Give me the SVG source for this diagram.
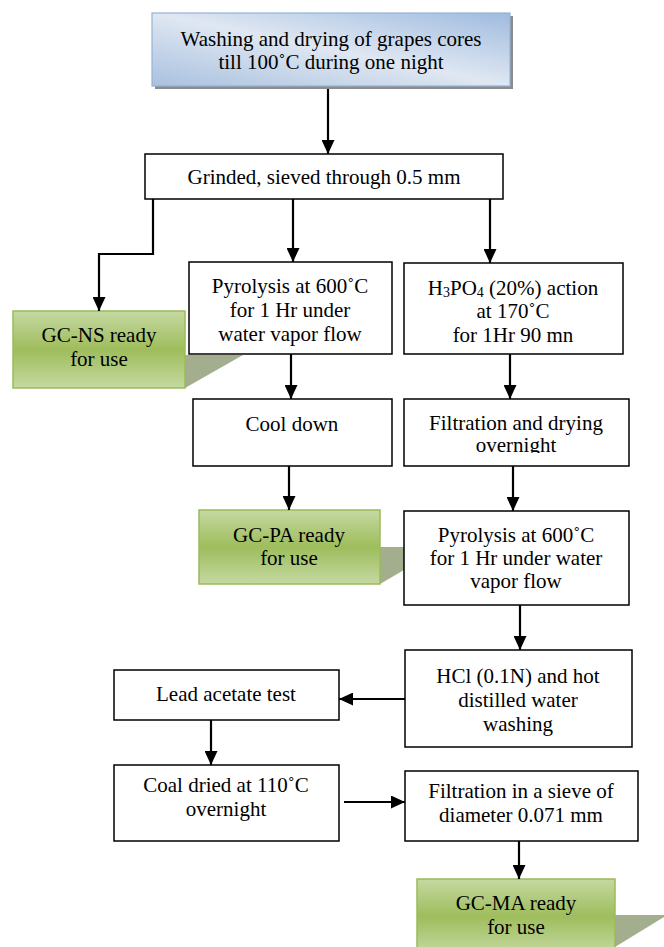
<svg xmlns="http://www.w3.org/2000/svg" width="664" height="947" viewBox="0 0 664 947">
<style>
text{font-family:'Liberation Serif',Tinos,'DejaVu Serif',serif;font-size:21px;fill:#000;text-anchor:middle}
.box{fill:#fff;stroke:#000;stroke-width:1.5}
.green{fill:url(#gg);stroke:#9bbb59;stroke-width:1.5}
.shadow{fill:#a3ae8e}
.con{fill:none;stroke:#000;stroke-width:2.2}
.sub{font-size:14px}
</style>
<defs>
<linearGradient id="bg" x1="0" y1="1" x2="1" y2="0">
<stop offset="0" stop-color="#a9c1df"/>
<stop offset="0.5" stop-color="#dfe7f2"/>
<stop offset="1" stop-color="#9fbbdf"/>
</linearGradient>
<linearGradient id="gg" x1="0" y1="0" x2="0" y2="1">
<stop offset="0" stop-color="#c5d9a2"/>
<stop offset="0.5" stop-color="#9ebd5c"/>
<stop offset="1" stop-color="#c5d9a2"/>
</linearGradient>
<marker id="ah" markerUnits="userSpaceOnUse" markerWidth="14" markerHeight="13" viewBox="0 0 14 13" refX="14" refY="6.5" orient="auto">
<path d="M0,0 L14,6.5 L0,13 z" fill="#000"/>
</marker>
<clipPath id="clipFD"><rect x="404" y="399" width="226" height="54"/></clipPath>
</defs>

<g id="shadows">
<polygon class="shadow" points="185,355 243,355 185,388"/>
<polygon class="shadow" points="380,547 404,547 404,570 380,584"/>
<polygon class="shadow" points="615,915 664,915 664,917 615,947"/>
</g>

<g id="n-washing">
<rect x="155" y="16" width="358" height="73" fill="#8c8c8c"/>
<rect x="152" y="13" width="358" height="73" fill="url(#bg)" stroke="#95b3d7" stroke-width="1.2"/>
<text x="331" y="46">Washing and drying of grapes cores</text>
<text x="331" y="69">till 100˚C during one night</text>
</g>

<g id="n-grinded">
<rect class="box" x="145" y="154" width="358" height="45"/>
<text x="324" y="184">Grinded, sieved through 0.5 mm</text>
</g>

<g id="n-gcns">
<rect class="green" x="13" y="311" width="172" height="77"/>
<text x="99" y="342">GC-NS ready</text>
<text x="99" y="366">for use</text>
</g>

<g id="n-pyro1">
<rect class="box" x="189" y="262" width="203" height="92"/>
<text x="290" y="293">Pyrolysis at 600˚C</text>
<text x="290" y="317">for 1 Hr under</text>
<text x="290" y="341">water vapor flow</text>
</g>

<g id="n-h3po4">
<rect class="box" x="404" y="263" width="219" height="91"/>
<text x="513" y="295">H<tspan class="sub" dy="2">3</tspan><tspan dy="-2">PO</tspan><tspan class="sub" dy="2">4</tspan><tspan dy="-2"> (20%) action</tspan></text>
<text x="513" y="318">at 170˚C</text>
<text x="513" y="342">for 1Hr 90 mn</text>
</g>

<g id="n-cool">
<rect class="box" x="193" y="399" width="199" height="67"/>
<text x="292" y="431">Cool down</text>
</g>

<g id="n-filtdry">
<rect class="box" x="404" y="399" width="225" height="67"/>
<text x="516" y="430">Filtration and drying</text>
<text x="516" y="452" clip-path="url(#clipFD)">overnight</text>
</g>

<g id="n-gcpa">
<rect class="green" x="199" y="510" width="181" height="74"/>
<text x="289" y="542">GC-PA ready</text>
<text x="289" y="565">for use</text>
</g>

<g id="n-pyro2">
<rect class="box" x="404" y="511" width="225" height="94"/>
<text x="516" y="542">Pyrolysis at 600˚C</text>
<text x="516" y="565">for 1 Hr under water</text>
<text x="516" y="588">vapor flow</text>
</g>

<g id="n-hcl">
<rect class="box" x="405" y="650" width="227" height="97"/>
<text x="518" y="683">HCl (0.1N) and hot</text>
<text x="518" y="707">distilled water</text>
<text x="518" y="731">washing</text>
</g>

<g id="n-lead">
<rect class="box" x="114" y="670" width="225" height="50"/>
<text x="226" y="701">Lead acetate test</text>
</g>

<g id="n-coal">
<rect class="box" x="114" y="765" width="225" height="76"/>
<text x="226" y="792">Coal dried at 110˚C</text>
<text x="226" y="816">overnight</text>
</g>

<g id="n-filtsieve">
<rect class="box" x="405" y="771" width="233" height="70"/>
<text x="521" y="798">Filtration in a sieve of</text>
<text x="521" y="822">diameter 0.071 mm</text>
</g>

<g id="n-gcma">
<rect class="green" x="417" y="879" width="198" height="75"/>
<text x="516" y="910">GC-MA ready</text>
<text x="516" y="934">for use</text>
</g>

<g id="connectors">
<line class="con" x1="328" y1="89" x2="328" y2="154" marker-end="url(#ah)"/>
<polyline class="con" points="153,199 153,254 99,254 99,311" marker-end="url(#ah)"/>
<line class="con" x1="293" y1="199" x2="293" y2="262" marker-end="url(#ah)"/>
<line class="con" x1="490" y1="199" x2="490" y2="263" marker-end="url(#ah)"/>
<line class="con" x1="291" y1="354" x2="291" y2="399" marker-end="url(#ah)"/>
<line class="con" x1="510" y1="354" x2="510" y2="399" marker-end="url(#ah)"/>
<line class="con" x1="289" y1="466" x2="289" y2="510" marker-end="url(#ah)"/>
<line class="con" x1="513" y1="466" x2="513" y2="511" marker-end="url(#ah)"/>
<line class="con" x1="520" y1="605" x2="520" y2="650" marker-end="url(#ah)"/>
<line class="con" x1="405" y1="699" x2="339" y2="699" marker-end="url(#ah)"/>
<line class="con" x1="211" y1="720" x2="211" y2="765" marker-end="url(#ah)"/>
<line class="con" x1="344" y1="802" x2="405" y2="802" marker-end="url(#ah)"/>
<line class="con" x1="519" y1="841" x2="519" y2="879" marker-end="url(#ah)"/>
</g>
</svg>
